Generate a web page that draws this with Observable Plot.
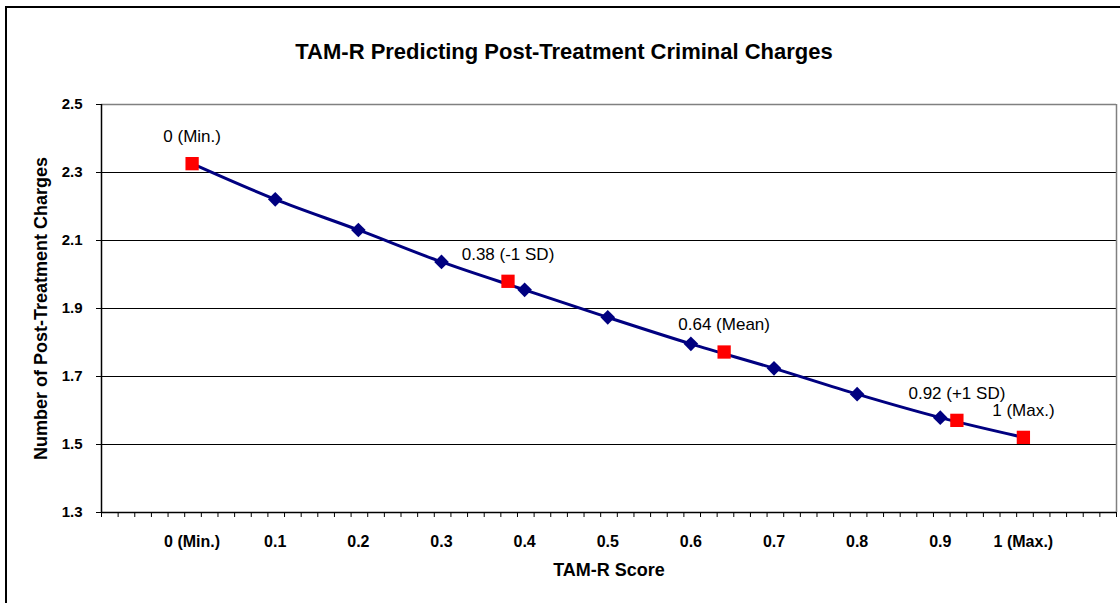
<!DOCTYPE html>
<html><head><meta charset="utf-8">
<script src="https://cdn.jsdelivr.net/npm/d3@7"></script>
<script src="https://cdn.jsdelivr.net/npm/@observablehq/plot@0.6"></script>
<style>
body{margin:0;background:#fff;overflow:hidden;}
#wrap{position:relative;width:1120px;height:603px;overflow:hidden;}
#border{position:absolute;left:5px;top:6px;width:1300px;height:800px;border:2px solid #000;box-sizing:border-box;}
#chart{position:absolute;left:0;top:0;}
</style></head><body>
<div id="wrap"><div id="border"></div><div id="chart"></div></div>
<script>
// ---- data ----
const chartTitle = "TAM-R Predicting Post-Treatment Criminal Charges";
const xTitle = "TAM-R Score";
const yTitle = "Number of Post-Treatment Charges";

const xTickValues = [0, 0.1, 0.2, 0.3, 0.4, 0.5, 0.6, 0.7, 0.8, 0.9, 1];
const xTickLabels = ["0 (Min.)", "0.1", "0.2", "0.3", "0.4", "0.5", "0.6", "0.7", "0.8", "0.9", "1 (Max.)"];
const yTickValues = [1.3, 1.5, 1.7, 1.9, 2.1, 2.3, 2.5];

const diamondScores  = [0.1, 0.2, 0.3, 0.4, 0.5, 0.6, 0.7, 0.8, 0.9];
const diamondCharges = [2.221, 2.131, 2.037, 1.955, 1.874, 1.796, 1.724, 1.648, 1.579];

const markerScores  = [0, 0.38, 0.64, 0.92, 1];
const markerCharges = [2.326, 1.980, 1.772, 1.571, 1.521];
const markerLabels  = ["0 (Min.)", "0.38 (-1 SD)", "0.64 (Mean)", "0.92 (+1 SD)", "1 (Max.)"];

// ---- tables built from the arrays ----
const diamonds = diamondScores.map((x, i) => ({x, y: diamondCharges[i]}));
const markers = markerScores.map((x, i) => ({x, y: markerCharges[i], label: markerLabels[i]}));
const lineData = [markers[0], ...diamonds, markers[markers.length - 1]];

const xDomain = [-0.109, 1.112];
const minorTicks = d3.range(62).map(k => xDomain[0] + k * (xDomain[1] - xDomain[0]) / 61);
const gridValues = [1.5, 1.7, 1.9, 2.1, 2.3];

const font = "'Liberation Sans', Arial, Helvetica, sans-serif";

const chart = Plot.plot({
  width: 1120,
  height: 603,
  marginLeft: 101,
  marginRight: 4,
  marginTop: 104,
  marginBottom: 91,
  style: {fontFamily: font, background: "transparent", color: "#000", overflow: "visible"},
  x: {domain: xDomain},
  y: {domain: [1.3, 2.5]},
  marks: [
    Plot.ruleY(gridValues, {stroke: "#000", strokeWidth: 1}),
    Plot.ruleY([2.5], {stroke: "#808080", strokeWidth: 1.5}),
    Plot.ruleX([xDomain[1]], {stroke: "#808080", strokeWidth: 1.5}),
    Plot.axisY({ticks: yTickValues, tickSize: 5, tickPadding: 14, tickFormat: d => d.toFixed(1),
      fontSize: 15, fontWeight: "bold", label: null, stroke: "#000"}),
    Plot.axisX({ticks: minorTicks, tickSize: 5, tickFormat: () => "", label: null, stroke: "#000"}),
    Plot.axisX({ticks: xTickValues, tickSize: 0, tickPadding: 23,
      tickFormat: d => xTickLabels[xTickValues.indexOf(d)], fontSize: 16, fontWeight: "bold", label: null}),
    Plot.ruleX([xDomain[0]], {stroke: "#000", strokeWidth: 1.5}),
    Plot.ruleY([1.3], {stroke: "#000", strokeWidth: 1.5}),
    Plot.line(lineData, {x: "x", y: "y", curve: "catmull-rom", stroke: "#000080", strokeWidth: 3}),
    Plot.dot(diamonds, {x: "x", y: "y", symbol: "diamond2", r: 6.6, fill: "#000080", stroke: "none"}),
    Plot.dot(markers, {x: "x", y: "y", symbol: "square", r: 7.5, fill: "#ff0000", stroke: "none"}),
    Plot.text(markers, {x: "x", y: "y", text: "label", dy: -27, fontSize: 17, fill: "#000"}),
    Plot.text([chartTitle], {text: d => d, frameAnchor: "top", dx: -45, dy: -61, fontSize: 22, fontWeight: "bold", fill: "#000"}),
    Plot.text([xTitle], {text: d => d, frameAnchor: "bottom", dy: 63, fontSize: 18, fontWeight: "bold", fill: "#000"}),
    Plot.text([yTitle], {text: d => d, frameAnchor: "left", textAnchor: "middle", dx: -60, rotate: -90, fontSize: 18, fontWeight: "bold", fill: "#000"})
  ]
});
document.getElementById("chart").appendChild(chart);
</script></body></html>
